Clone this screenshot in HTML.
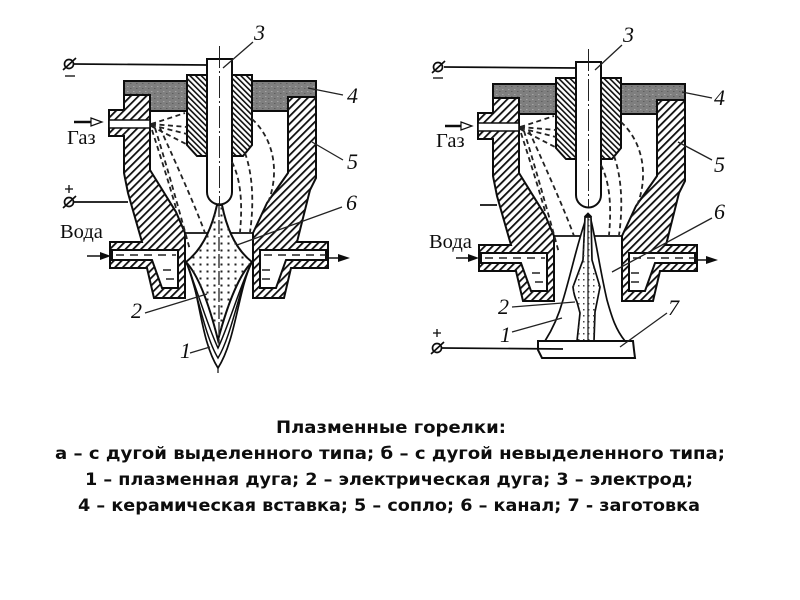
<!DOCTYPE html>
<html><head><meta charset="utf-8"><style>
html,body{margin:0;padding:0;background:#fff}
svg{display:block}
.l{font-family:"Liberation Serif",serif;font-style:italic;font-size:22px;fill:#111}
.r{font-family:"Liberation Serif",serif;font-size:20.5px;fill:#111}
.c{font-family:"DejaVu Sans",sans-serif;font-weight:bold;font-size:16.5px;fill:#111}
.t{stroke:#222;stroke-width:1.3;fill:none}
</style></head><body>
<svg width="800" height="600" viewBox="0 0 800 600" xmlns="http://www.w3.org/2000/svg">
<defs>
<pattern id="h1" width="5.500" height="5.500" patternUnits="userSpaceOnUse" patternTransform="rotate(45)"><rect width="5.500" height="5.500" fill="#fff"/><rect width="1.800" height="5.500" fill="#111"/></pattern>
<pattern id="h2" width="4" height="4" patternUnits="userSpaceOnUse" patternTransform="rotate(-45)"><rect width="4" height="4" fill="#fff"/><rect width="1.600" height="4" fill="#111"/></pattern>
<pattern id="sp" width="6" height="5" patternUnits="userSpaceOnUse"><rect width="6" height="5" fill="#7f7f7f"/><rect x="1" y="1" width="1.500" height="1" fill="#a5a5a5"/><rect x="4" y="3" width="1.500" height="1" fill="#5f5f5f"/></pattern>
<pattern id="dots" width="7" height="7" patternUnits="userSpaceOnUse" x="1" y="2"><rect x="2.500" y="2.500" width="2" height="2" fill="#222"/></pattern>
<pattern id="dots2" width="5" height="6" patternUnits="userSpaceOnUse" x="1" y="1"><rect x="2" y="2" width="1.500" height="1.500" fill="#444"/></pattern>
<filter id="b" x="0" y="0" width="100%" height="100%"><feGaussianBlur stdDeviation="0.3"/></filter>
<g id="body">
<path d="M124,81H316V97H288V111H150V95H124Z" fill="url(#sp)" stroke="#111" stroke-width="2"/>
<path d="M124,95H150V170L176,212L185,233V298H154L147,268H110V242H142L128,193L124,173V136H109V110H124Z" fill="url(#h1)" stroke="#111" stroke-width="2"/>
<path d="M288,97H316V178L310,190L297,242H328V268H291L284,298H253V233L267,203L288,173Z" fill="url(#h1)" stroke="#111" stroke-width="2"/>
<path d="M109,120H150V128H109Z" fill="#fff" stroke="#111" stroke-width="1.600"/>
<path d="M112,250H178V288H162L152,260H112Z" fill="#fff" stroke="#111" stroke-width="2"/>
<path d="M326,250H260V288H276L286,260H326Z" fill="#fff" stroke="#111" stroke-width="2"/>
<path d="M116,255H176M264,255H326M163,270H176M166,279H176M262,270H276M262,279H272" stroke="#222" stroke-width="1.400" stroke-dasharray="8 6" fill="none"/>
<path d="M185,233H253" stroke="#111" stroke-width="1.700"/>
<path d="M187,75H252V145L243,156H197L187,145Z" fill="url(#h2)" stroke="#111" stroke-width="2"/>
<path d="M207,59H232V192A12.500,12.500 0 0 1 207,192Z" fill="#fff" stroke="#111" stroke-width="2"/>
<path d="M219.500,46V204" stroke="#222" stroke-width="1" stroke-dasharray="22 3 2 3" fill="none"/>
<g fill="none" stroke="#222" stroke-width="1.800" stroke-dasharray="5 3.500">
<path d="M151,124Q170,118 185,113"/>
<path d="M151,124L187,127"/>
<path d="M151,125L187,134"/>
<path d="M151,126L186,144"/>
<path d="M152,130C160,155 168,180 176,208"/>
<path d="M155,128C165,160 175,195 190,250"/>
<path d="M160,128C170,150 195,205 205,233"/>
<path d="M232,162C240,178 243,200 240,232"/>
<path d="M245,153C253,175 254,205 250,232"/>
<path d="M252,119C275,140 280,175 267,205"/>
</g>
</g>
</defs>
<g filter="url(#b)">
<use href="#body"/>
<use href="#body" transform="translate(369,3)"/>

<path d="M217,205Q208,245 186,262Q203,280 218,340Q234,280 252,262Q230,245 222,205Z" fill="#fff" stroke="#111" stroke-width="2"/>
<path d="M217,205Q208,245 186,262Q203,280 218,340Q234,280 252,262Q230,245 222,205Z" fill="url(#dots)"/>
<path d="M219,203V345" stroke="#222" stroke-width="1.300" stroke-dasharray="14 3"/>
<path d="M186,262C200,290 200,340 218,368C236,340 238,290 252,262" fill="none" stroke="#111" stroke-width="1.700"/>
<path d="M186,262C196,285 204,335 218,358C232,335 240,285 252,262" fill="none" stroke="#111" stroke-width="1.500"/>
<path d="M186,262C194,280 207,325 218,348C229,325 242,280 252,262" fill="none" stroke="#111" stroke-width="1.500"/>
<path d="M218,368V373" stroke="#111" stroke-width="1.200"/>

<path d="M587,216C578,240 572,270 563,300C558,318 552,330 545,341H625C616,330 612,318 607,300C600,270 596,240 590,216Z" fill="#fff" stroke="#111" stroke-width="1.700"/>
<path d="M585,217L583,260L573,287Q574,296 577,302L580,313L577,341H594L595,312L600,287L592,260L591,217Z" fill="#fff" stroke="#111" stroke-width="1.700"/>
<path d="M585,217L583,260L573,287Q574,296 577,302L580,313L577,341H594L595,312L600,287L592,260L591,217Z" fill="url(#dots2)"/>
<path d="M588,213V348" stroke="#222" stroke-width="1.300"/>
<path d="M585,216L588,213L591,216Z" fill="#111" stroke="#111"/>
<path d="M538,341H633L634,350L635,358H542L538,350Z" fill="#fff" stroke="#111" stroke-width="2"/>

<g fill="none" stroke="#111" stroke-width="1.700">
<path d="M74,64L207,65"/>
<circle cx="69" cy="64" r="4.500"/><path d="M63,70L76,58"/>
<path d="M65,76H75" stroke-width="1.300"/>
<path d="M74,202H128"/>
<circle cx="69" cy="202" r="4.500"/><path d="M63,208L76,196"/>
<path d="M69,185V193M65,189H73" stroke-width="1.300"/>
<path d="M444,67L576,68"/>
<circle cx="438" cy="67" r="4.500"/><path d="M432,73L445,61"/>
<path d="M433,78H443" stroke-width="1.300"/>
<path d="M480,205H497"/>
<path d="M442,348L563,349"/>
<circle cx="437" cy="348" r="4.500"/><path d="M431,354L444,342"/>
<path d="M437,329V337M433,333H441" stroke-width="1.300"/>
</g>

<path d="M74,122H92" stroke="#111" stroke-width="2.500"/><path d="M91,118L102,122L91,126Z" fill="#fff" stroke="#111" stroke-width="1.200"/>
<path d="M445,126H463" stroke="#111" stroke-width="2.500"/><path d="M461,122L472,126L461,130Z" fill="#fff" stroke="#111" stroke-width="1.200"/>
<path d="M87,256H102" stroke="#111" stroke-width="1.500"/><path d="M100,252L111,256L100,260Z" fill="#111"/>
<path d="M327,258H340" stroke="#111" stroke-width="1.500"/><path d="M338,254L350,258L338,262Z" fill="#111"/>
<path d="M456,258H470" stroke="#111" stroke-width="1.500"/><path d="M468,254L479,258L468,262Z" fill="#111"/>
<path d="M696,260H708" stroke="#111" stroke-width="1.500"/><path d="M706,256L718,260L706,264Z" fill="#111"/>

<path class="t" d="M223,68L253,42M308,88L343,95M312,142L343,160M237,245L342,207M145,313L207,294M190,353L210,347"/>
<path class="t" d="M595,70L622,45M682,92L712,98M678,142L712,160M612,272L712,218M512,307L575,302M512,332L562,318M620,347L667,313"/>

<text class="l" x="254" y="40">3</text>
<text class="l" x="347" y="103">4</text>
<text class="l" x="347" y="169">5</text>
<text class="l" x="346" y="210">6</text>
<text class="l" x="131" y="318">2</text>
<text class="l" x="180" y="358">1</text>
<text class="l" x="623" y="42">3</text>
<text class="l" x="714" y="105">4</text>
<text class="l" x="714" y="172">5</text>
<text class="l" x="714" y="219">6</text>
<text class="l" x="498" y="314">2</text>
<text class="l" x="500" y="342">1</text>
<text class="l" x="668" y="315">7</text>
<text class="r" x="67" y="144">Газ</text>
<text class="r" x="60" y="238">Вода</text>
<text class="r" x="436" y="147">Газ</text>
<text class="r" x="429" y="248">Вода</text>

<text class="c" x="276" y="433" textLength="230" lengthAdjust="spacingAndGlyphs">Плазменные горелки:</text>
<text class="c" x="55" y="459" textLength="670" lengthAdjust="spacingAndGlyphs">а – с дугой выделенного типа; б – с дугой невыделенного типа;</text>
<text class="c" x="85" y="485" textLength="608" lengthAdjust="spacingAndGlyphs">1 – плазменная дуга; 2 – электрическая дуга; 3 – электрод;</text>
<text class="c" x="78" y="511" textLength="622" lengthAdjust="spacingAndGlyphs">4 – керамическая вставка; 5 – сопло; 6 – канал; 7 - заготовка</text>
</g>
</svg>
</body></html>
